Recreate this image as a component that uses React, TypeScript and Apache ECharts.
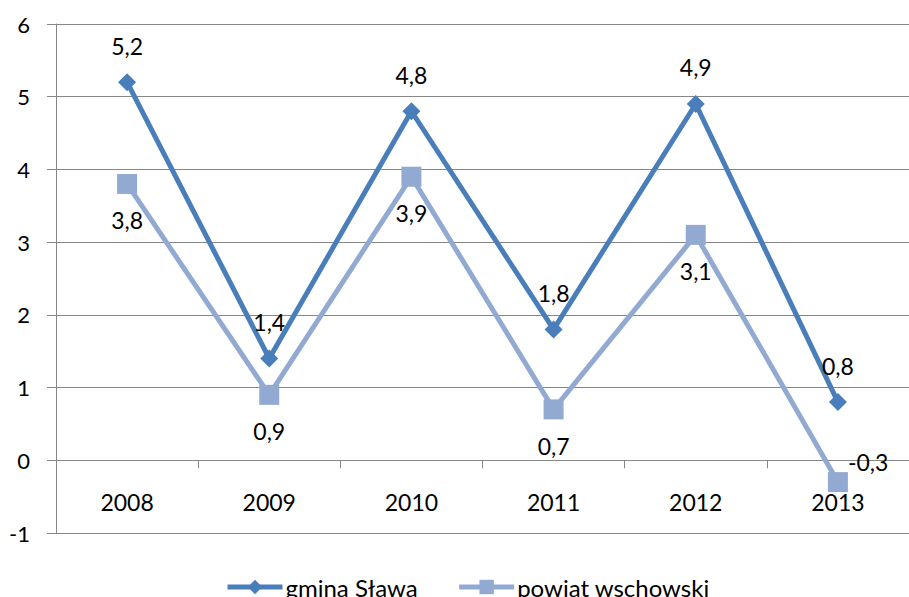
import React, { useEffect, useRef } from "react";
import * as echarts from "echarts";

const categories = ["2008", "2009", "2010", "2011", "2012", "2013"];
const gminaValues = [5.2, 1.4, 4.8, 1.8, 4.9, 0.8];
const powiatValues = [3.8, 0.9, 3.9, 0.7, 3.1, -0.3];
const seriesNames = ["gmina Sława", "powiat wschowski"];

const FONT = "Lato, 'Open Sans', sans-serif";
const fmt = (v: number) => String(v).replace(".", ",");

export default function App() {
  const ref = useRef<HTMLDivElement>(null);
  useEffect(() => {
    if (!ref.current) return;
    const chart = echarts.init(ref.current, undefined, { renderer: "svg" });
    const gridColor = "#868686";
    chart.setOption({
      animation: false,
      textStyle: { fontFamily: FONT },
      grid: { left: 56, right: -5, top: 24, bottom: 64, containLabel: false },
      xAxis: {
        type: "category",
        data: categories,
        boundaryGap: true,
        axisLine: { show: true, onZero: true, lineStyle: { color: gridColor, width: 1 } },
        axisTick: { show: true, length: 8, lineStyle: { color: gridColor } },
        axisLabel: { color: "#000", fontSize: 23, fontFamily: FONT, margin: -43 },
        splitLine: { show: false },
      },
      yAxis: {
        type: "value",
        min: -1,
        max: 6,
        interval: 1,
        axisLine: { show: true, lineStyle: { color: gridColor, width: 1 } },
        axisTick: { show: true, length: 9, lineStyle: { color: gridColor } },
        axisLabel: { color: "#000", fontSize: 22, fontFamily: FONT, margin: 26 },
        splitLine: { show: true, lineStyle: { color: gridColor, width: 1 } },
      },
      legend: {
        left: 220,
        top: 570,
        itemWidth: 55,
        itemHeight: 18,
        itemGap: 39,
        lineStyle: { width: 5 },
        textStyle: { color: "#000", fontSize: 24, fontFamily: FONT, padding: [0, 0, 0, -2] },
        data: seriesNames,
      },
      series: [
        {
          name: seriesNames[0],
          type: "line",
          data: gminaValues,
          symbol: "diamond",
          symbolSize: 18,
          color: "#4A7EBB",
          lineStyle: { width: 5, color: "#4A7EBB" },
          itemStyle: { color: "#4A7EBB" },
          z: 3,
          label: {
            show: true,
            position: "top",
            distance: 16,
            color: "#000",
            fontSize: 23,
            fontFamily: FONT,
            formatter: (p: any) => fmt(p.value),
          },
        },
        {
          name: seriesNames[1],
          type: "line",
          data: powiatValues.map((v, i) =>
            i === powiatValues.length - 1
              ? { value: v, label: { position: "right", distance: 5, offset: [-5, -20] } }
              : v
          ),
          symbol: "rect",
          symbolSize: 20,
          color: "#92AAD2",
          lineStyle: { width: 5, color: "#92AAD2" },
          itemStyle: { color: "#92AAD2" },
          z: 2,
          label: {
            show: true,
            position: "bottom",
            distance: 15,
            color: "#000",
            fontSize: 23,
            fontFamily: FONT,
            formatter: (p: any) => fmt(p.value),
          },
        },
      ],
    });
    return () => chart.dispose();
  }, []);
  return <div ref={ref} style={{ width: 909, height: 597, position: "absolute", left: 0, top: 0 }} />;
}
